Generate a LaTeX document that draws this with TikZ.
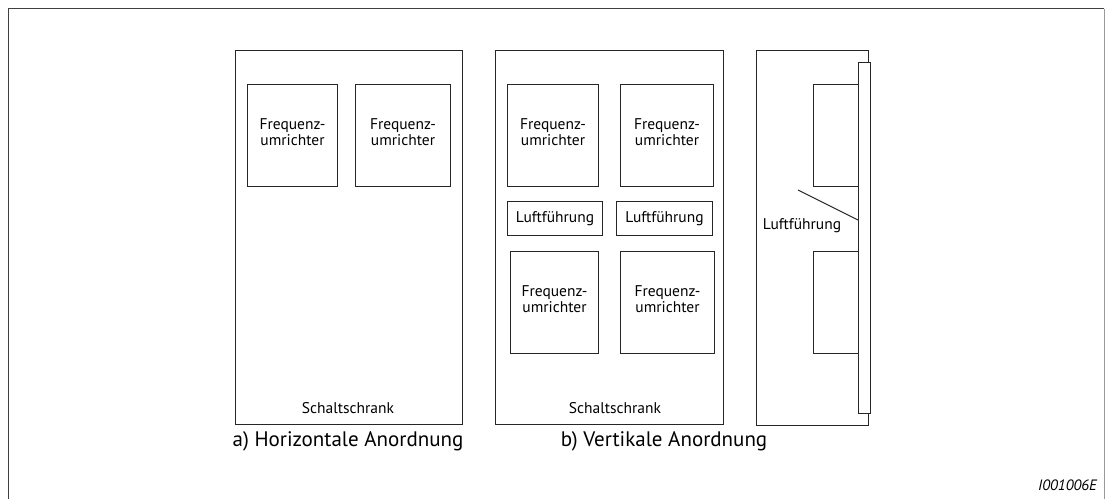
\documentclass[tikz,border=0pt]{standalone}
\usepackage{fontspec}
\setmainfont{PT Sans}
\begin{document}
\begin{tikzpicture}[x=1pt,y=-1pt,
  box/.style={draw=black!85,line width=1pt},
  lbl/.style={font=\fontsize{15.5}{16}\selectfont,align=center,inner sep=0pt},
  captxt/.style={font=\fontsize{21}{23}\selectfont,inner sep=0pt}]
\useasboundingbox (0,0) rectangle (1105,499);
% outer frame
\draw[black!75,line width=1.5pt] (8.5,499) -- (8.5,8.5) -- (1104,8.5);
\draw[black!40,line width=1pt] (1104,8.5) -- (1104,499);
% cabinet a
\draw[box] (235,50) rectangle (462,424);
\node[box,minimum width=90pt,minimum height=102pt,anchor=north west,inner sep=0pt] (a1) at (247,84) {};
\node[box,minimum width=95pt,minimum height=102pt,anchor=north west,inner sep=0pt] (a2) at (355,84) {};
\node[lbl] at ([yshift=3pt]a1.center) {Frequenz-\\umrichter};
\node[lbl] at ([yshift=3pt]a2.center) {Frequenz-\\umrichter};
\node[lbl] (sa) at (348,408) {Schaltschrank};
% cabinet b
\draw[box] (495,50) rectangle (723,424);
\node[box,minimum width=91pt,minimum height=102pt,anchor=north west,inner sep=0pt] (b1) at (507,84) {};
\node[box,minimum width=93pt,minimum height=102pt,anchor=north west,inner sep=0pt] (b2) at (620,84) {};
\node[lbl] at ([yshift=3pt]b1.center) {Frequenz-\\umrichter};
\node[lbl] at ([yshift=3pt]b2.center) {Frequenz-\\umrichter};
\node[box,minimum width=95pt,minimum height=34pt,anchor=north west,inner sep=0pt] (l1) at (507,201) {};
\node[box,minimum width=96pt,minimum height=34pt,anchor=north west,inner sep=0pt] (l2) at (616,201) {};
\node[lbl] at (l1.center) {Luftführung};
\node[lbl] at (l2.center) {Luftführung};
\node[box,minimum width=88pt,minimum height=102pt,anchor=north west,inner sep=0pt] (b3) at (510,251) {};
\node[box,minimum width=94pt,minimum height=102pt,anchor=north west,inner sep=0pt] (b4) at (620,251) {};
\node[lbl] at ([yshift=3pt]b3.center) {Frequenz-\\umrichter};
\node[lbl] at ([yshift=3pt]b4.center) {Frequenz-\\umrichter};
\node[lbl] (sb) at (615,408) {Schaltschrank};
% side view
\draw[box] (756,50) rectangle (868,425);
\node[box,minimum width=45pt,minimum height=102pt,anchor=north west,inner sep=0pt] (s1) at (813,84) {};
\node[box,minimum width=45pt,minimum height=102pt,anchor=north west,inner sep=0pt] (s2) at (813,251) {};
\node[box,fill=white,minimum width=12pt,minimum height=351pt,anchor=north west,inner sep=0pt] (st) at (858,62) {};
\coordinate (d1) at (798,190);
\coordinate (d2) at (858,220);
\draw[box] (d1) -- (d2);
\node[lbl] (sl) at (802,226) {Luftführung};
% captions
\node[captxt] (ca) at (348,441) {a) Horizontale Anordnung};
\node[captxt] (cb) at (664,441) {b) Vertikale Anordnung};
\node[font=\fontsize{15}{16}\selectfont\itshape,anchor=east,inner sep=0pt] (id) at (1097,485) {I001006E};
\end{tikzpicture}
\end{document}
